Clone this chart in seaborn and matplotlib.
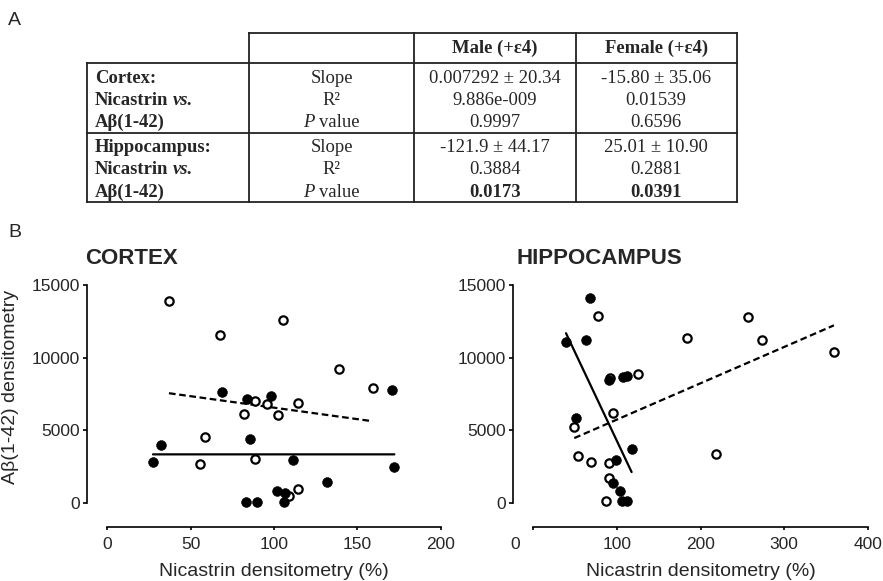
import matplotlib
matplotlib.use("Agg")
import matplotlib.pyplot as plt
import seaborn as sns
import pandas as pd
import numpy as np
from matplotlib.lines import Line2D

# ---------------- data ----------------
# Table (panel A)
table_cols = ["Male (+\u03b54)", "Female (+\u03b54)"]
table_stats = ["Slope", "R\u00b2", "P value"]
cortex_male_stats = ["0.007292 \u00b1 20.34", "9.886e-009", "0.9997"]
cortex_female_stats = ["-15.80 \u00b1 35.06", "0.01539", "0.6596"]
hippo_male_stats = ["-121.9 \u00b1 44.17", "0.3884", "0.0173"]
hippo_female_stats = ["25.01 \u00b1 10.90", "0.2881", "0.0391"]

# Cortex scatter (filled = male, open = female)
cortex_male_x = [69, 84, 98, 170.6, 32, 27.4, 85.4, 111.6, 172.2, 131.8, 101.8, 106.6, 83.2, 90, 106.2]
cortex_male_y = [7630, 7140, 7370, 7740, 4000, 2830, 4360, 2940, 2460, 1450, 800, 640, 70, 70, 80]
cortex_female_x = [37, 67.6, 105.6, 138.8, 159.2, 88.4, 95.6, 114.6, 81.8, 102.6, 58.8, 55.8, 88.4, 114.2, 109]
cortex_female_y = [13900, 11580, 12570, 9190, 7930, 7030, 6800, 6890, 6090, 6040, 4530, 2690, 3030, 920, 460]

# Hippocampus scatter
hippo_male_x = [67.4, 62.6, 39.1, 90.1, 107.7, 111.6, 50.6, 117.6, 98.5, 94.9, 103.7, 105.7, 112.4]
hippo_male_y = [14130, 11230, 11100, 8430, 8660, 8750, 5860, 3700, 2940, 1380, 800, 90, 90]
hippo_female_x = [77.8, 183.8, 257.2, 273.5, 359.6, 124.9, 91.7, 94.9, 49, 53.4, 68.6, 90.1, 90.5, 87.3, 218.1]
hippo_female_y = [12860, 11370, 12770, 11230, 10360, 8860, 8590, 6200, 5240, 3190, 2800, 2760, 1680, 90, 3380]

# Linear fits (slope from table, intercept)
cortex_male_fit = (0.007292, 3330)
cortex_female_fit = (-15.80, 8128)
hippo_male_fit = (-121.9, 16446)
hippo_female_fit = (25.01, 3226)

# ---------------- style ----------------
sns.set_theme(style="ticks")
plt.rcParams["font.family"] = ["Liberation Sans", "DejaVu Sans"]
plt.rcParams["lines.scale_dashes"] = False

W, H = 883, 581
fig = plt.figure(figsize=(W / 100, H / 100), dpi=100)


def px(x, y):
    return x / W, 1 - y / H


# ---------------- Panel A: table ----------------
serif = ["Liberation Serif", "DejaVu Serif"]
fs_tab = 13.4
lc = "#222222"
lw_tab = 1.3


def hline(y, x0, x1):
    fig.add_artist(Line2D([x0 / W, x1 / W], [1 - y / H, 1 - y / H], transform=fig.transFigure,
                          color=lc, lw=lw_tab, solid_capstyle="projecting"))


def vline(x, y0, y1):
    fig.add_artist(Line2D([x / W, x / W], [1 - y0 / H, 1 - y1 / H], transform=fig.transFigure,
                          color=lc, lw=lw_tab, solid_capstyle="projecting"))


cx = [86.6, 249, 414, 575.5, 736.8]
ry = [33.3, 63.3, 133.3, 202.3]
hline(ry[0], cx[1], cx[4])
for y in ry[1:]:
    hline(y, cx[0], cx[4])
vline(cx[0], ry[1], ry[3])
for x in cx[1:]:
    vline(x, ry[0], ry[3])

renderer = fig.canvas.get_renderer()


def rich(x, y, segs, ha="left"):
    """segs: list of (text, weight, style). Drawn sequentially at baseline y (px)."""
    arts, widths = [], []
    for s, wgt, sty in segs:
        t = fig.text(0, 0, s, family=serif, fontsize=fs_tab, fontweight=wgt, fontstyle=sty,
                     va="baseline", ha="left")
        arts.append(t)
        widths.append(t.get_window_extent(renderer).width)
    gap = fs_tab * 1.389 * 0.25
    total = sum(widths) + gap * (len(segs) - 1)
    start = x - total / 2 if ha == "center" else x
    cur = start
    for t, w in zip(arts, widths):
        t.set_position(px(cur, y))
        cur += w + gap


# header
for j, col in enumerate(table_cols):
    fig.text(*px((cx[2 + j] + cx[3 + j]) / 2, 53), col, family=serif, fontsize=fs_tab,
             fontweight="bold", ha="center", va="baseline")

groups = [("Cortex:", cortex_male_stats, cortex_female_stats, [83, 105, 127]),
          ("Hippocampus:", hippo_male_stats, hippo_female_stats, [152, 174, 197])]
for gname, mstats, fstats, ys in groups:
    rich(95, ys[0], [(gname, "bold", "normal")])
    rich(95, ys[1], [("Nicastrin", "bold", "normal"), ("vs.", "bold", "italic")])
    rich(95, ys[2], [("A\u03b2(1-42)", "bold", "normal")])
    mid = (cx[1] + cx[2]) / 2
    rich(mid, ys[0], [(table_stats[0], "normal", "normal")], ha="center")
    rich(mid, ys[1], [(table_stats[1], "normal", "normal")], ha="center")
    rich(mid, ys[2], [("P", "normal", "italic"), ("value", "normal", "normal")], ha="center")
    sig = gname.startswith("Hippo")
    for k in range(3):
        wgt = "bold" if (sig and k == 2) else "normal"
        fig.text(*px((cx[2] + cx[3]) / 2, ys[k]), mstats[k], family=serif, fontsize=fs_tab,
                 fontweight=wgt, ha="center", va="baseline")
        fig.text(*px((cx[3] + cx[4]) / 2, ys[k]), fstats[k], family=serif, fontsize=fs_tab,
                 fontweight=wgt, ha="center", va="baseline")

# panel letters
fig.text(*px(8, 25), "A", fontsize=14, ha="left", va="baseline")
fig.text(*px(8, 237), "B", fontsize=14, ha="left", va="baseline")

# ---------------- Panel B: scatter plots ----------------
ax1 = fig.add_axes([107.3 / W, 1 - 502.7 / H, 333.4 / W, 217.7 / H])
ax2 = fig.add_axes([533.3 / W, 1 - 502.7 / H, 334.4 / W, 217.7 / H])


def panel(ax, mx, my, fx, fy, mfit, ffit):
    dm = pd.DataFrame({"x": mx, "y": my})
    dfm = pd.DataFrame({"x": fx, "y": fy})
    xm = np.array([min(mx), max(mx)])
    xf = np.array([min(fx), max(fx)])
    lm = pd.DataFrame({"x": xm, "y": mfit[0] * xm + mfit[1]})
    lf = pd.DataFrame({"x": xf, "y": ffit[0] * xf + ffit[1]})
    sns.lineplot(data=lm, x="x", y="y", ax=ax, color="black", lw=1.6, zorder=2)
    sns.lineplot(data=lf, x="x", y="y", ax=ax, color="black", lw=1.6, zorder=2,
                 linestyle=(0, (4.8, 2.6)))
    sns.scatterplot(data=dfm, x="x", y="y", ax=ax, color="white", edgecolor="black",
                    s=36, linewidth=1.6, zorder=3, clip_on=False)
    sns.scatterplot(data=dm, x="x", y="y", ax=ax, color="black", edgecolor="black",
                    s=50, linewidth=0.4, zorder=4, clip_on=False)
    ax.set_xlabel("")
    ax.set_ylabel("")
    ax.set_ylim(0, 15000)
    ax.set_yticks([0, 5000, 10000, 15000])
    sns.despine(ax=ax)
    ax.spines["left"].set_position(("outward", 14.7))
    ax.spines["bottom"].set_position(("outward", 17.3))
    for sp in ["left", "bottom"]:
        ax.spines[sp].set_linewidth(1.2)
        ax.spines[sp].set_color("black")
    ax.tick_params(axis="y", length=2.9, width=1.2, pad=2.4, labelsize=12.5, color="black")
    ax.tick_params(axis="x", length=2.5, width=1.2, pad=4.6, labelsize=12.5, color="black")


panel(ax1, cortex_male_x, cortex_male_y, cortex_female_x, cortex_female_y,
      cortex_male_fit, cortex_female_fit)
ax1.set_xlim(0, 200)
ax1.set_xticks([0, 50, 100, 150, 200])

panel(ax2, hippo_male_x, hippo_male_y, hippo_female_x, hippo_female_y,
      hippo_male_fit, hippo_female_fit)
ax2.set_xlim(0, 400)
ax2.set_xticks([0, 100, 200, 300, 400], labels=["", "100", "200", "300", "400"])
# the "0" label of this axis sits left of its tick in the reference
ax2.annotate("0", xy=(0, 0), xycoords=("data", "axes fraction"), xytext=(-13, -24.4),
             textcoords="offset points", ha="center", va="top", fontsize=12.5)

# titles
fig.text(*px(85, 264.3), "CORTEX", fontsize=16, fontweight="bold", ha="left", va="baseline")
fig.text(*px(516, 264.3), "HIPPOCAMPUS", fontsize=16, fontweight="bold", ha="left", va="baseline")

# axis labels
fig.text(*px(274, 575.7), "Nicastrin densitometry (%)", fontsize=14, ha="center", va="baseline")
fig.text(*px(700.5, 575.7), "Nicastrin densitometry (%)", fontsize=14, ha="center", va="baseline")
fig.text(*px(11, 387), "A\u03b2(1-42) densitometry", fontsize=14, rotation=90,
         ha="center", va="center")

fig.savefig("out.png", dpi=100, facecolor="white")
